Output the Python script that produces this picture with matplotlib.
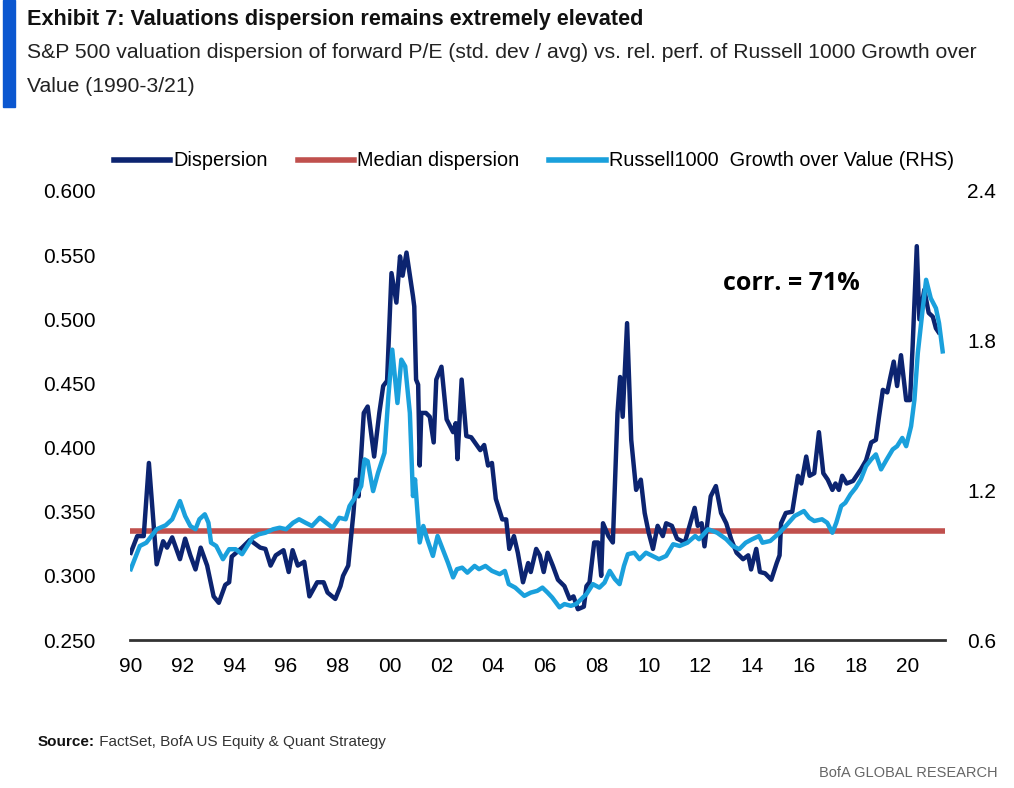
import matplotlib
matplotlib.use("Agg")
import matplotlib.pyplot as plt
from matplotlib.patches import Rectangle

# ================================ Data ================================ #

disp_t = [1990.00, 1990.25, 1990.50, 1990.70, 1991.00, 1991.25, 1991.40, 1991.60, 1991.90, 1992.10,
          1992.30, 1992.50, 1992.70, 1992.95, 1993.20, 1993.40, 1993.65, 1993.80, 1993.90, 1994.30,
          1994.60, 1995.00, 1995.20, 1995.40, 1995.60, 1995.90, 1996.10, 1996.25, 1996.45, 1996.70,
          1996.90, 1997.20, 1997.45, 1997.60, 1997.90, 1998.10, 1998.20, 1998.40, 1998.60, 1998.70,
          1998.80, 1999.00, 1999.15, 1999.40, 1999.60, 1999.75, 1999.90, 2000.07, 2000.26, 2000.40,
          2000.50, 2000.65, 2000.90, 2000.95, 2001.02, 2001.10, 2001.16, 2001.22, 2001.40, 2001.55,
          2001.70, 2001.80, 2002.00, 2002.20, 2002.45, 2002.55, 2002.62, 2002.78, 2002.96, 2003.15,
          2003.50, 2003.65, 2003.80, 2003.95, 2004.10, 2004.35, 2004.50, 2004.62, 2004.80, 2004.95,
          2005.15, 2005.35, 2005.45, 2005.66, 2005.80, 2005.95, 2006.10, 2006.30, 2006.50, 2006.75,
          2006.95, 2007.10, 2007.27, 2007.50, 2007.60, 2007.72, 2007.90, 2008.05, 2008.17, 2008.24,
          2008.45, 2008.62, 2008.80, 2008.90, 2009.00, 2009.17, 2009.33, 2009.52, 2009.70, 2009.85,
          2010.00, 2010.17, 2010.35, 2010.55, 2010.68, 2010.90, 2011.10, 2011.40, 2011.78, 2011.90,
          2012.05, 2012.16, 2012.40, 2012.60, 2012.80, 2013.00, 2013.20, 2013.40, 2013.65, 2013.85,
          2013.96, 2014.16, 2014.30, 2014.50, 2014.74, 2014.95, 2015.06, 2015.12, 2015.30, 2015.55,
          2015.77, 2015.90, 2016.09, 2016.22, 2016.40, 2016.58, 2016.75, 2016.92, 2017.10, 2017.22,
          2017.35, 2017.48, 2017.65, 2017.90, 2018.20, 2018.40, 2018.60, 2018.78, 2018.90, 2019.05,
          2019.22, 2019.32, 2019.47, 2019.60, 2019.75, 2019.95, 2020.10, 2020.20, 2020.36, 2020.46,
          2020.65, 2020.82, 2020.98, 2021.10, 2021.20]
disp_v = [0.318, 0.331, 0.331, 0.388, 0.309, 0.327, 0.322, 0.330, 0.313, 0.329,
          0.316, 0.305, 0.322, 0.308, 0.284, 0.279, 0.293, 0.295, 0.315, 0.322,
          0.328, 0.322, 0.321, 0.308, 0.316, 0.320, 0.303, 0.320, 0.308, 0.311,
          0.284, 0.295, 0.295, 0.287, 0.282, 0.292, 0.300, 0.308, 0.349, 0.375,
          0.362, 0.427, 0.432, 0.393, 0.427, 0.448, 0.452, 0.536, 0.513, 0.549,
          0.534, 0.552, 0.518, 0.510, 0.453, 0.449, 0.386, 0.427, 0.427, 0.424,
          0.404, 0.453, 0.463, 0.422, 0.412, 0.419, 0.391, 0.453, 0.409, 0.408,
          0.398, 0.402, 0.386, 0.388, 0.360, 0.344, 0.344, 0.321, 0.331, 0.318,
          0.295, 0.310, 0.303, 0.321, 0.316, 0.303, 0.318, 0.308, 0.297, 0.292,
          0.282, 0.284, 0.274, 0.276, 0.292, 0.295, 0.326, 0.326, 0.300, 0.341,
          0.331, 0.326, 0.427, 0.455, 0.424, 0.497, 0.406, 0.367, 0.375, 0.349,
          0.334, 0.321, 0.339, 0.331, 0.341, 0.339, 0.329, 0.326, 0.353, 0.339,
          0.341, 0.323, 0.362, 0.370, 0.349, 0.341, 0.328, 0.318, 0.313, 0.316,
          0.305, 0.321, 0.303, 0.302, 0.297, 0.310, 0.316, 0.341, 0.349, 0.350,
          0.378, 0.372, 0.393, 0.378, 0.380, 0.412, 0.380, 0.375, 0.367, 0.372,
          0.367, 0.378, 0.372, 0.374, 0.383, 0.390, 0.404, 0.406, 0.424, 0.445,
          0.443, 0.453, 0.467, 0.448, 0.472, 0.437, 0.437, 0.479, 0.557, 0.500,
          0.523, 0.505, 0.502, 0.493, 0.490]

rus_t = [1990.00, 1990.35, 1990.60, 1991.00, 1991.35, 1991.60, 1991.90, 1992.10, 1992.30, 1992.50,
         1992.65, 1992.86, 1993.00, 1993.10, 1993.30, 1993.56, 1993.80, 1994.05, 1994.30, 1994.50,
         1994.70, 1994.95, 1995.20, 1995.50, 1995.75, 1996.00, 1996.27, 1996.50, 1996.75, 1997.00,
         1997.30, 1997.55, 1997.80, 1998.05, 1998.30, 1998.45, 1998.70, 1998.90, 1999.03, 1999.15,
         1999.36, 1999.55, 1999.80, 1999.95, 2000.10, 2000.30, 2000.45, 2000.60, 2000.78, 2000.90,
         2000.98, 2001.16, 2001.30, 2001.45, 2001.67, 2001.85, 2002.05, 2002.25, 2002.45, 2002.60,
         2002.80, 2003.00, 2003.28, 2003.45, 2003.70, 2003.95, 2004.25, 2004.45, 2004.60, 2004.85,
         2005.20, 2005.45, 2005.70, 2005.90, 2006.10, 2006.28, 2006.56, 2006.75, 2007.00, 2007.20,
         2007.40, 2007.60, 2007.85, 2008.10, 2008.30, 2008.50, 2008.70, 2008.88, 2009.05, 2009.20,
         2009.45, 2009.65, 2009.90, 2010.15, 2010.40, 2010.68, 2010.95, 2011.20, 2011.50, 2011.80,
         2011.95, 2012.30, 2012.65, 2013.00, 2013.25, 2013.50, 2013.75, 2014.00, 2014.27, 2014.40,
         2014.70, 2015.06, 2015.30, 2015.64, 2016.00, 2016.20, 2016.40, 2016.70, 2016.90, 2017.10,
         2017.25, 2017.44, 2017.60, 2017.80, 2018.00, 2018.20, 2018.40, 2018.60, 2018.78, 2018.98,
         2019.20, 2019.43, 2019.60, 2019.80, 2019.95, 2020.14, 2020.27, 2020.40, 2020.57, 2020.72,
         2020.90, 2021.10, 2021.22, 2021.36]
rus_v = [0.884, 0.977, 0.990, 1.044, 1.060, 1.084, 1.157, 1.097, 1.057, 1.044,
         1.084, 1.104, 1.070, 0.990, 0.977, 0.924, 0.964, 0.964, 0.944, 0.977,
         1.010, 1.024, 1.030, 1.044, 1.050, 1.044, 1.070, 1.084, 1.070, 1.057,
         1.090, 1.070, 1.050, 1.090, 1.084, 1.137, 1.177, 1.217, 1.324, 1.317,
         1.197, 1.270, 1.350, 1.577, 1.764, 1.550, 1.724, 1.697, 1.510, 1.177,
         1.244, 0.991, 1.057, 1.004, 0.937, 1.017, 0.964, 0.910, 0.851, 0.884,
         0.890, 0.870, 0.897, 0.884, 0.897, 0.877, 0.864, 0.877, 0.824, 0.810,
         0.777, 0.790, 0.797, 0.810, 0.790, 0.770, 0.731, 0.744, 0.737, 0.744,
         0.764, 0.784, 0.824, 0.810, 0.830, 0.877, 0.844, 0.824, 0.897, 0.944,
         0.950, 0.924, 0.950, 0.937, 0.924, 0.937, 0.984, 0.977, 0.990, 1.017,
         1.004, 1.044, 1.030, 1.004, 0.977, 0.964, 0.990, 1.004, 1.017, 0.990,
         0.997, 1.030, 1.057, 1.097, 1.117, 1.090, 1.077, 1.084, 1.070, 1.030,
         1.070, 1.137, 1.150, 1.184, 1.210, 1.244, 1.297, 1.324, 1.344, 1.284,
         1.324, 1.364, 1.377, 1.410, 1.377, 1.457, 1.564, 1.751, 1.910, 2.044,
         1.970, 1.930, 1.870, 1.757]

median_disp = 0.335
x_ticks = list(range(1990, 2021, 2))
x_labels = ["%02d" % (y % 100) for y in x_ticks]
left_ticks = [0.25, 0.30, 0.35, 0.40, 0.45, 0.50, 0.55, 0.60]
right_ticks = [0.6, 1.2, 1.8, 2.4]

# ================================ Style ================================ #

plt.rcParams["font.family"] = ["Liberation Sans", "DejaVu Sans"]

c_dark = "#0c2470"
c_red = "#c0504d"
c_light = "#1aa0dc"

# ================================ Figure ================================ #

fig = plt.figure(figsize=(10.14, 7.88), dpi=100)
ax = fig.add_axes([130 / 1014, 1 - 640 / 788, (945 - 130) / 1014, (640 - 191) / 788])
ax2 = ax.twinx()

ax.axhline(median_disp, color=c_red, lw=4.0, zorder=2)
ax.plot(disp_t, disp_v, color=c_dark, lw=3.2, zorder=3)
ax2.plot(rus_t, rus_v, color=c_light, lw=3.2, zorder=3)

ax.set_xlim(1989.97, 2021.45)
ax.set_ylim(0.25, 0.60)
ax2.set_ylim(0.6, 2.4)

ax.set_xticks(x_ticks)
ax.set_xticklabels(x_labels)
ax.set_yticks(left_ticks)
ax.set_yticklabels(["%.3f" % v for v in left_ticks])
ax2.set_yticks(right_ticks)
ax2.set_yticklabels(["%.1f" % v for v in right_ticks])

for a in (ax, ax2):
    for s in ("top", "left", "right", "bottom"):
        a.spines[s].set_visible(False)
    a.tick_params(length=0, labelsize=15, colors="black")
ax.spines["bottom"].set_visible(True)
ax.spines["bottom"].set_color("#333333")
ax.spines["bottom"].set_linewidth(2)
ax.tick_params(axis="y", pad=25)
ax.tick_params(axis="x", pad=12)
ax2.tick_params(axis="y", pad=16)

ax.text(2012.86, 0.528, "corr. = 71%", fontsize=18, fontweight="bold",
        family=["Open Sans", "DejaVu Sans"], va="center", zorder=5)

# legend
h1, = ax.plot([], [], color=c_dark, lw=4, label="Dispersion")
h2, = ax.plot([], [], color=c_red, lw=4, label="Median dispersion")
h3, = ax.plot([], [], color=c_light, lw=4, label="Russell1000  Growth over Value (RHS)")
fig.legend(handles=[h1, h2, h3], loc="center", bbox_to_anchor=(534 / 1014, 1 - 161 / 788),
           ncol=3, frameon=False, fontsize=14.3, handlelength=2.85, handletextpad=0.15,
           columnspacing=1.5)

# ================================ Header / footer ================================ #

fig.patches.append(Rectangle((3 / 1014, 1 - 107 / 788), 12 / 1014, 107 / 788,
                             transform=fig.transFigure, color="#0b57d0"))
fig.text(27 / 1014, 1 - 9 / 788, "Exhibit 7: Valuations dispersion remains extremely elevated",
         fontsize=15.6, fontweight="bold", va="top", color="#111111")
fig.text(27 / 1014, 1 - 43 / 788,
         "S&P 500 valuation dispersion of forward P/E (std. dev / avg) vs. rel. perf. of Russell 1000 Growth over",
         fontsize=15.2, va="top", color="#222222")
fig.text(27 / 1014, 1 - 77 / 788, "Value (1990-3/21)", fontsize=15.2, va="top", color="#222222")

src = fig.text(38 / 1014, 1 - 746 / 788, "Source:", fontsize=11, fontweight="bold",
               va="baseline", color="#111111")
plt.annotate(" FactSet, BofA US Equity & Quant Strategy", xy=(1, 0), xycoords=src,
             fontsize=11, color="#333333", va="bottom", annotation_clip=False)
fig.text(998 / 1014, 1 - 777 / 788, "BofA GLOBAL RESEARCH", fontsize=10.5, ha="right",
         va="baseline", color="#666666")

plt.savefig("out.png", dpi=100)
